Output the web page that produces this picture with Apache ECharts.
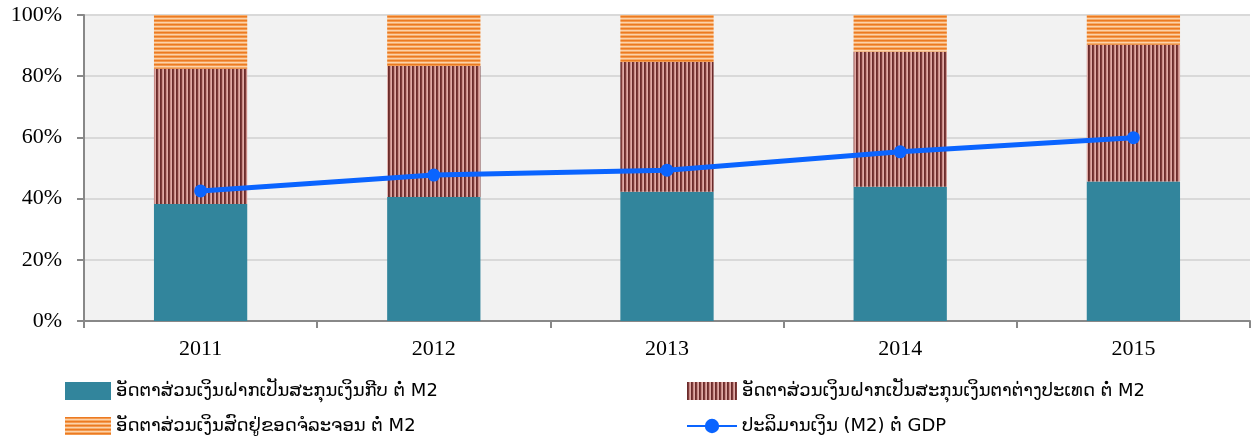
<!DOCTYPE html>
<html>
<head>
<meta charset="utf-8">
<script src="https://cdn.jsdelivr.net/npm/echarts@6/dist/echarts.min.js"></script>
<style>
html, body { margin: 0; padding: 0; background: #fff; }
#main { width: 1252px; height: 442px; }
</style>
</head>
<body>
<div id="main"></div>
<script>
// data (share of M2, %)
var years = ['2011', '2012', '2013', '2014', '2015'];
var kipDeposits = [38.2, 40.5, 42.2, 43.9, 45.6];
var fxDeposits = [44.2, 42.8, 42.4, 44.1, 44.7];
var currency = [17.6, 16.7, 15.4, 12.0, 9.7];
var m2ToGdp = [42.5, 47.7, 49.3, 55.3, 59.9];
var yTicks = [0, 20, 40, 60, 80, 100];

var names = [
    'ອັດຕາສ່ວນເງິນຝາກເປັນສະກຸນເງິນກີບ ຕໍ່ M2',
    'ອັດຕາສ່ວນເງິນຝາກເປັນສະກຸນເງິນຕາຕ່າງປະເທດ ຕໍ່ M2',
    'ອັດຕາສ່ວນເງິນສົດຢູ່ຂອດຈໍລະຈອນ ຕໍ່ M2',
    'ປະລິມານເງິນ (M2) ຕໍ່ GDP'
];

// stripe patterns
function stripes(colors, vertical) {
    var c = document.createElement('canvas');
    c.width = vertical ? colors.length : 1;
    c.height = vertical ? 1 : colors.length;
    var ctx = c.getContext('2d');
    colors.forEach(function (col, i) {
        ctx.fillStyle = col;
        if (vertical) ctx.fillRect(i, 0, 1, 1);
        else ctx.fillRect(0, i, 1, 1);
    });
    return { image: c, repeat: 'repeat' };
}
var maroonPattern = stripes(['#6b2b2b', '#7e3c3a', '#c98b87', '#e0aba6'], true);
var orangePattern = stripes(['#ec7a22', '#f39a4e', '#fcd2ab', '#f6ad6a'], false);

var chart = echarts.init(document.getElementById('main'));
var serif = '"Liberation Serif", "DejaVu Serif", serif';
var sans = '"DejaVu Sans", "Noto Sans", sans-serif';

var option = {
    animation: false,
    grid: {
        left: 84, right: 2, top: 15, bottom: 121,
        show: true, backgroundColor: '#f2f2f2', borderWidth: 0
    },
    legend: [
        {
            orient: 'vertical', left: 60, top: 377, itemGap: 17,
            itemWidth: 46, itemHeight: 18,
            textStyle: { fontFamily: sans, fontSize: 18, color: '#000' },
            data: [{ name: names[0], icon: 'rect' }, { name: names[2], icon: 'rect' }]
        },
        {
            orient: 'vertical', left: 681, top: 377, itemGap: 17,
            itemWidth: 50, itemHeight: 18,
            textStyle: { fontFamily: sans, fontSize: 18, color: '#000' },
            data: [{ name: names[1], icon: 'rect' }, names[3]]
        }
    ],
    xAxis: {
        type: 'category',
        data: years,
        axisLine: { lineStyle: { color: '#888', width: 2 } },
        axisTick: { show: true, length: 7, lineStyle: { color: '#888', width: 2 } },
        axisLabel: { fontFamily: serif, fontSize: 22, color: '#000', margin: 17 }
    },
    yAxis: {
        type: 'value',
        min: 0, max: 100, interval: 20,
        axisLine: { show: true, lineStyle: { color: '#888', width: 2 } },
        axisTick: { show: true, length: 7, lineStyle: { color: '#888', width: 2 } },
        splitLine: { lineStyle: { color: '#d9d9d9', width: 2 } },
        axisLabel: {
            fontFamily: serif, fontSize: 22, color: '#000', margin: 22,
            formatter: function (v) { return yTicks.indexOf(v) >= 0 ? v + '%' : ''; }
        }
    },
    series: [
        {
            name: names[0], type: 'bar', stack: 'm2', barWidth: '40%',
            itemStyle: { color: '#32859c' },
            data: kipDeposits
        },
        {
            name: names[1], type: 'bar', stack: 'm2',
            itemStyle: { color: maroonPattern },
            data: fxDeposits
        },
        {
            name: names[2], type: 'bar', stack: 'm2',
            itemStyle: { color: orangePattern },
            data: currency
        },
        {
            name: names[3], type: 'line',
            symbol: 'circle', symbolSize: 13,
            lineStyle: { color: '#0a64ff', width: 5 },
            itemStyle: { color: '#0a64ff' },
            data: m2ToGdp
        }
    ]
};

chart.setOption(option);
</script>
</body>
</html>
